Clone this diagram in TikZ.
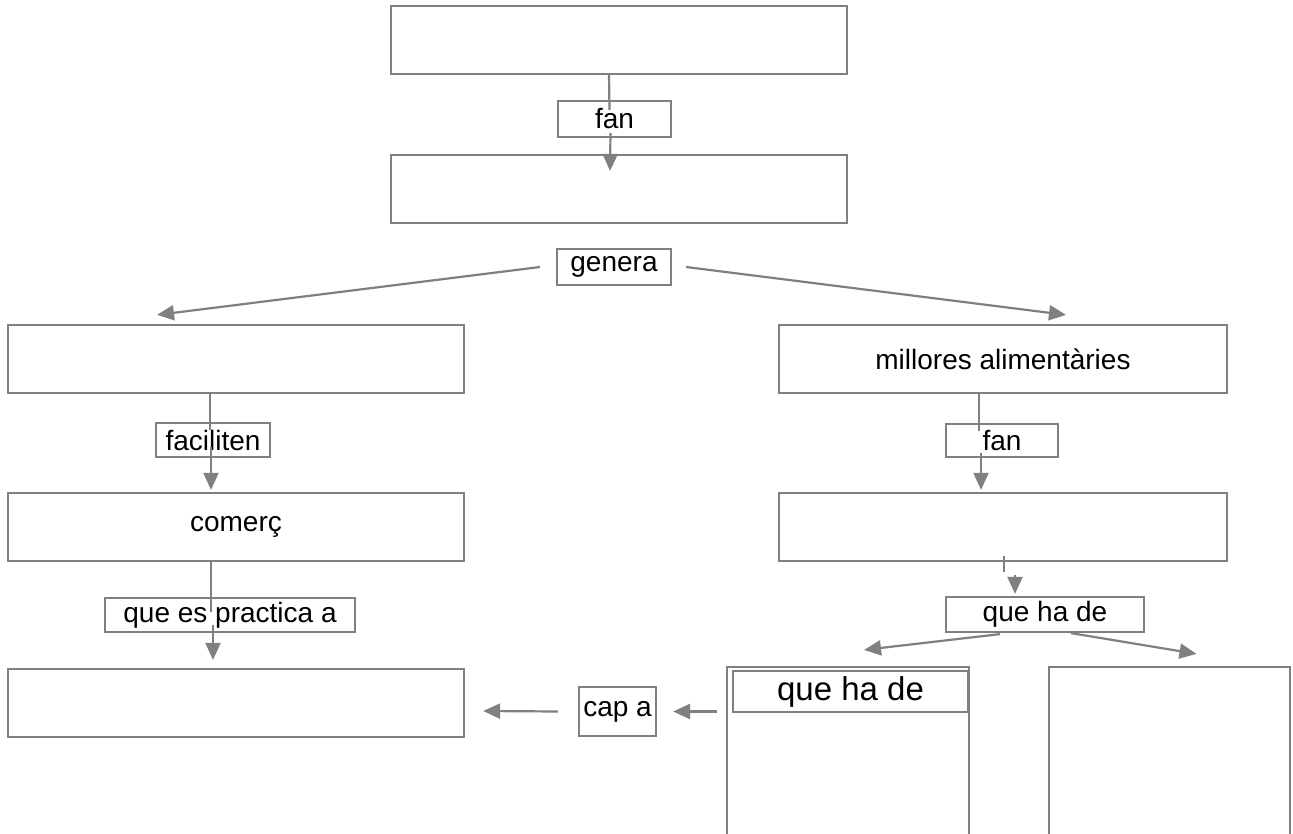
\documentclass[tikz,border=0pt]{standalone}
\usepackage{fontspec}
\setmainfont{Liberation Sans}
\usetikzlibrary{arrows.meta,calc}
\definecolor{lg}{HTML}{808080}
\tikzset{
  box/.style={draw=lg, line width=2.2pt, rectangle, inner sep=0pt, text=black,
              font=\fontsize{28}{32}\selectfont},
  bigbox/.style={box, minimum width=456pt, minimum height=68pt},
  conn/.style={draw=lg, line width=2.2pt},
  arr/.style={conn, -{Triangle[length=17pt,width=15pt]}},
}
\begin{document}
\begin{tikzpicture}[x=1pt,y=-1pt]
\useasboundingbox (0,0) rectangle (1293,834);
\clip (0,0) rectangle (1293,834);
% boxes
\node[bigbox] (A) at (619,40) {};
\node[box, minimum width=113pt, minimum height=36pt] (fan1) at (614.5,119) {fan};
\node[bigbox] (B) at (619,189) {};
\node[box, minimum width=114pt, minimum height=36pt] (genera) at (614,267) {genera};
\node[bigbox] (C) at (236,359) {};
\node[bigbox, minimum width=448pt] (D) at (1003,359) {\raisebox{-2pt}{millores alimentàries}};
\node[box, minimum width=114pt, minimum height=34pt] (faciliten) at (213,440) {faciliten};
\node[box, minimum width=112pt, minimum height=33pt] (fan2) at (1002,440.5) {fan};
\node[bigbox] (comerc) at (236,527) {comerç};
\node[bigbox, minimum width=448pt] (H) at (1003,527) {};
\node[box, minimum width=250pt, minimum height=34pt] (practica) at (230,615) {que es practica a};
\node[box, minimum width=198pt, minimum height=35pt] (quehade1) at (1045,614.5) {que ha de};
\node[bigbox] (E) at (236,703) {};
\node[box, minimum width=77pt, minimum height=49pt] (capa) at (617.5,711.5) {cap a};
\node[box, minimum width=242pt, minimum height=173pt] (F) at (848,753.5) {};
\node[box, minimum width=235pt, minimum height=41pt, font=\fontsize{33}{38}\selectfont] (Fin) at (850.5,691.5) {que ha de};
\node[box, minimum width=241pt, minimum height=173pt] (G) at (1169.5,753.5) {};
% connectors
\draw[conn] ($(A.south)+(-10,0)$) -- ($(fan1.center)+(-5,-9)$);
\draw[arr] ($(fan1.center)+(-4,14)$) -- ($(B.north)+(-9,17)$);
\draw[arr] ($(genera.west)+(-16,0)$) -- ($(C.north)+(-79,-9)$);
\draw[arr] ($(genera.east)+(14,0)$) -- ($(D.north)+(63,-9)$);
\draw[conn] ($(C.south)+(-26,0)$) -- ($(faciliten.center)+(-3,-10)$);
\draw[arr] ($(faciliten.center)+(-2,7)$) -- ($(comerc.north)+(-25,-2)$);
\draw[conn] ($(D.south)+(-24,0)$) -- ($(fan2.center)+(-23,-10)$);
\draw[arr] ($(fan2.center)+(-21,12)$) -- ($(H.north)+(-22,-2)$);
\draw[conn] ($(comerc.south)+(-25,0)$) -- ($(practica.center)+(-19,-3)$);
\draw[arr] ($(practica.center)+(-17,10)$) -- ($(E.north)+(-23,-8)$);
\draw[conn] ($(H.south)+(1,-6)$) -- ($(H.south)+(1,10)$);
\draw[arr] ($(quehade1.north)+(-30,-21)$) -- ($(quehade1.north)+(-30,-2)$);
\draw[arr] ($(quehade1.south)+(-45,1)$) -- ($(F.north)+(16,-16)$);
\draw[arr] ($(quehade1.south)+(26,0)$) -- ($(G.north)+(27,-12)$);
\draw[arr] ($(capa.west)+(-20,0)$) -- ($(E.east)+(18,8)$);
\draw[arr] ($(F.west)+(-9,-42)$) -- ($(capa.east)+(16,0)$);
\end{tikzpicture}
\end{document}
